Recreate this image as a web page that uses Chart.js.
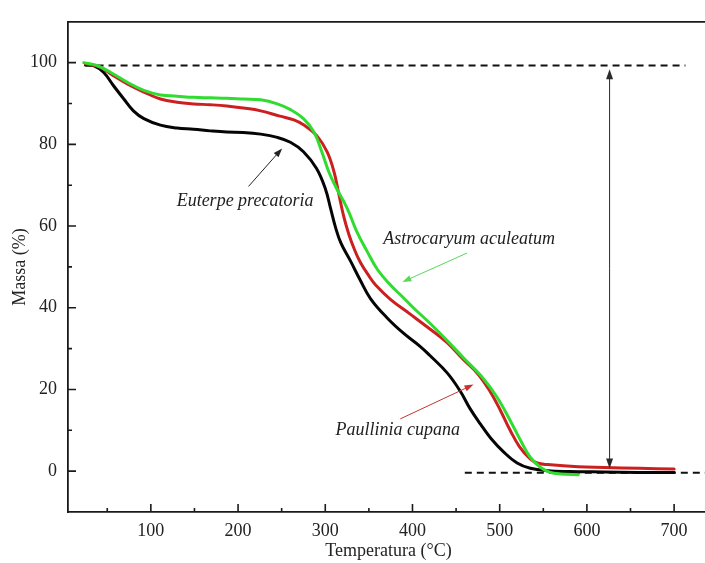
<!DOCTYPE html>
<html>
<head>
<meta charset="utf-8">
<title>Massa vs Temperatura</title>
<script src="https://cdn.jsdelivr.net/npm/chart.js@4"></script>
<style>
  html, body { margin: 0; padding: 0; background: #fff; overflow: hidden; width: 705px; height: 563px; }
  #wrap { position: relative; width: 709px; height: 563px; }
</style>
</head>
<body>
<div id="wrap"><canvas id="tga" width="709" height="563"></canvas></div>
<script>
// Thermogravimetric curves: residual mass (%) against temperature (°C)
const tempEuterpe = [25, 35, 46, 57, 69, 80, 92, 111, 130, 149, 168, 187, 206, 226, 245, 260, 275, 290, 300, 306, 312, 318, 329, 340, 352, 371, 390, 409, 420, 440, 455, 466, 478, 490, 505, 520, 535, 555, 580, 620, 660, 700];
const massEuterpe = [99.5, 99.2, 97.6, 94.4, 91.1, 88.2, 86.3, 84.7, 84.0, 83.7, 83.3, 83.0, 82.9, 82.5, 81.7, 80.5, 78.2, 74.1, 69.2, 64.4, 59.5, 55.8, 51.4, 46.8, 42.2, 37.5, 33.7, 30.5, 28.3, 24.0, 19.5, 15.3, 11.5, 8.0, 4.6, 2.0, 0.7, 0.1, -0.1, -0.2, -0.3, -0.3];

const tempPaullinia = [25, 42, 57, 73, 92, 111, 130, 149, 168, 187, 206, 226, 248, 264, 275, 290, 302, 310, 315, 321, 327, 333, 340, 350, 358, 375, 397, 420, 440, 458, 475, 489, 501, 512, 523, 535, 543, 555, 590, 620, 660, 700];
const massPaullinia = [99.7, 98.9, 96.8, 94.8, 92.8, 91.1, 90.3, 89.9, 89.7, 89.4, 88.9, 88.2, 86.9, 86.0, 84.8, 82.2, 78.2, 73.3, 68.4, 62.5, 58.0, 54.5, 51.2, 47.8, 45.5, 42.0, 38.5, 34.8, 31.4, 27.4, 23.8, 19.5, 14.8, 10.0, 5.9, 3.0, 2.0, 1.6, 1.05, 0.9, 0.7, 0.5];

const tempAstrocaryum = [23, 38, 54, 73, 92, 111, 130, 149, 168, 187, 206, 226, 245, 260, 275, 287, 296, 304, 313, 325, 336, 348, 360, 375, 387, 401, 420, 440, 460, 480, 497, 512, 524, 535, 547, 558, 570, 590];
const massAstrocaryum = [100, 99.3, 97.6, 95.2, 93.2, 92.1, 91.8, 91.5, 91.4, 91.3, 91.1, 90.9, 89.9, 88.5, 86.3, 83.0, 78.2, 73.3, 69.2, 64.4, 58.7, 53.8, 49.3, 45.5, 43.0, 40.0, 36.2, 31.9, 27.4, 23.0, 18.1, 12.4, 7.5, 3.4, 0.9, -0.3, -0.7, -0.9];

// Reference levels: initial mass and final residue
const initialLevelTemp = [24, 713];
const initialLevelMass = [99.3, 99.3];
const residueLevelTemp = [460, 740];
const residueLevelMass = [-0.4, -0.4];

// Total mass-loss span marked by the double arrow
const lossSpanTemp = 626;
const lossSpanMass = [98.4, 0.65];

// Axis ticks
const xMajorTicks = [100, 200, 300, 400, 500, 600, 700];
const xMinorTicks = [50, 150, 250, 350, 450, 550, 650];
const yMajorTicks = [0, 20, 40, 60, 80, 100];
const yMinorTicks = [10, 30, 50, 70, 90];

// Curve labels and their pointer arrows (data coordinates)
const curveNames = ['Euterpe precatoria', 'Astrocaryum aculeatum', 'Paullinia cupana'];
const nameAnchorsTemp = [208, 465, 383];
const nameAnchorsMass = [66, 56.7, 10];
const pointerFromTemp = [212, 462.6, 386];
const pointerFromMass = [69.7, 53.4, 12.8];
const pointerToTemp = [250.5, 388.4, 470];
const pointerToMass = [79.0, 46.3, 21.2];
const pointerColors = ['#222222', '#5ad65a', '#c83232'];

const zip = (xs, ys) => xs.map((x, i) => ({ x: x, y: ys[i] }));
const SERIF = "'Liberation Serif', 'Times New Roman', serif";

function drawArrow(ctx, x1, y1, x2, y2, color, lw, head) {
  const a = Math.atan2(y2 - y1, x2 - x1);
  const c = Math.cos(a), s = Math.sin(a);
  ctx.save();
  ctx.strokeStyle = color;
  ctx.fillStyle = color;
  ctx.lineWidth = lw;
  ctx.beginPath();
  ctx.moveTo(x1, y1);
  ctx.lineTo(x2 - c * head * 0.7, y2 - s * head * 0.7);
  ctx.stroke();
  ctx.beginPath();
  ctx.moveTo(x2, y2);
  ctx.lineTo(x2 - head * c + head * 0.35 * s, y2 - head * s - head * 0.35 * c);
  ctx.lineTo(x2 - head * c - head * 0.35 * s, y2 - head * s + head * 0.35 * c);
  ctx.closePath();
  ctx.fill();
  ctx.restore();
}

const frameAndNotes = {
  id: 'frameAndNotes',
  afterDatasetsDraw(chart) {
    const { ctx, chartArea: area, scales: { x, y } } = chart;
    ctx.save();
    ctx.strokeStyle = '#1a1a1a';
    // top frame line
    ctx.lineWidth = 1.8;
    ctx.beginPath();
    ctx.moveTo(area.left, area.top);
    ctx.lineTo(area.right, area.top);
    ctx.stroke();
    // inward tick marks
    ctx.lineWidth = 1.6;
    ctx.beginPath();
    xMajorTicks.forEach(v => { const p = x.getPixelForValue(v); ctx.moveTo(p, area.bottom); ctx.lineTo(p, area.bottom - 8); });
    xMinorTicks.forEach(v => { const p = x.getPixelForValue(v); ctx.moveTo(p, area.bottom); ctx.lineTo(p, area.bottom - 4); });
    yMajorTicks.forEach(v => { const p = y.getPixelForValue(v); ctx.moveTo(area.left, p); ctx.lineTo(area.left + 8, p); });
    yMinorTicks.forEach(v => { const p = y.getPixelForValue(v); ctx.moveTo(area.left, p); ctx.lineTo(area.left + 4, p); });
    ctx.stroke();
    ctx.restore();

    // double-headed arrow for the total mass loss
    const vx = x.getPixelForValue(lossSpanTemp);
    const vTop = y.getPixelForValue(lossSpanMass[0]);
    const vBot = y.getPixelForValue(lossSpanMass[1]);
    const mid = (vTop + vBot) / 2;
    drawArrow(ctx, vx, mid, vx, vTop, '#2a2a2a', 1, 10);
    drawArrow(ctx, vx, mid, vx, vBot, '#2a2a2a', 1, 10);

    // pointers from curve names to curves
    curveNames.forEach((_, i) => {
      drawArrow(ctx,
        x.getPixelForValue(pointerFromTemp[i]), y.getPixelForValue(pointerFromMass[i]),
        x.getPixelForValue(pointerToTemp[i]), y.getPixelForValue(pointerToMass[i]),
        pointerColors[i], 1, 9);
    });

    // curve names
    ctx.save();
    ctx.font = 'italic 18px ' + SERIF;
    ctx.fillStyle = '#1e1e1e';
    ctx.textAlign = 'center';
    ctx.textBaseline = 'middle';
    curveNames.forEach((name, i) => {
      ctx.fillText(name, x.getPixelForValue(nameAnchorsTemp[i]), y.getPixelForValue(nameAnchorsMass[i]));
    });
    ctx.restore();
  }
};

const lineStyle = { borderWidth: 3, pointRadius: 0, fill: false, tension: 0.4, borderJoinStyle: 'round', borderCapStyle: 'round' };

new Chart(document.getElementById('tga'), {
  type: 'line',
  data: {
    datasets: [
      Object.assign({ label: 'Astrocaryum aculeatum', data: zip(tempAstrocaryum, massAstrocaryum), borderColor: '#30dc30', order: 0 }, lineStyle),
      Object.assign({ label: 'Paullinia cupana', data: zip(tempPaullinia, massPaullinia), borderColor: '#cc2020', order: 1 }, lineStyle),
      Object.assign({ label: 'Euterpe precatoria', data: zip(tempEuterpe, massEuterpe), borderColor: '#050505', order: 2 }, lineStyle),
      { label: 'massa inicial', data: zip(initialLevelTemp, initialLevelMass), borderColor: '#111', borderWidth: 2, borderDash: [7, 5], pointRadius: 0, order: 3 },
      { label: 'resíduo', data: zip(residueLevelTemp, residueLevelMass), borderColor: '#111', borderWidth: 2, borderDash: [7, 5], pointRadius: 0, order: 3 }
    ]
  },
  options: {
    responsive: false,
    animation: false,
    events: [],
    layout: { padding: { top: 18, left: 0, right: 0, bottom: 0 } },
    plugins: { legend: { display: false }, tooltip: { enabled: false } },
    scales: {
      x: {
        type: 'linear',
        min: 5,
        max: 740,
        afterBuildTicks: s => { s.ticks = xMajorTicks.map(v => ({ value: v })); },
        afterFit: s => { s.height = 51; },
        grid: { display: false, drawTicks: false },
        border: { display: true, color: '#1a1a1a', width: 1.8 },
        ticks: { font: { family: SERIF, size: 18 }, color: '#222', padding: 8, maxRotation: 0 },
        title: { display: true, text: 'Temperatura (°C)', font: { family: SERIF, size: 18 }, color: '#222', padding: { top: 0, bottom: 1 } }
      },
      y: {
        type: 'linear',
        min: -10,
        max: 110,
        afterBuildTicks: s => { s.ticks = yMajorTicks.map(v => ({ value: v })); },
        afterFit: s => { s.width = 68; },
        grid: { display: false, drawTicks: false },
        border: { display: true, color: '#1a1a1a', width: 1.8 },
        ticks: { font: { family: SERIF, size: 18 }, color: '#222', padding: 11 },
        title: { display: true, text: 'Massa (%)', font: { family: SERIF, size: 18 }, color: '#222', padding: { top: 9, bottom: 0 } }
      }
    }
  },
  plugins: [frameAndNotes]
});
</script>
</body>
</html>
